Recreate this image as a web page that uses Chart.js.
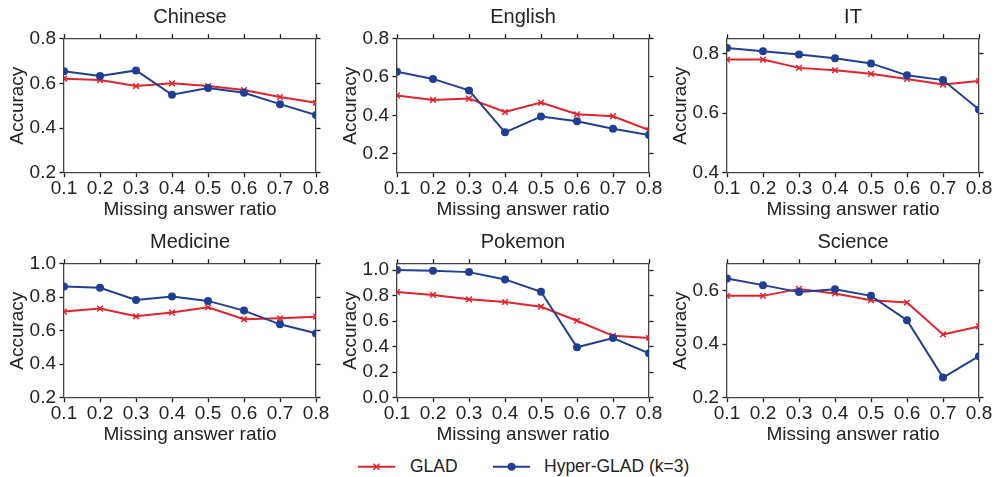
<!DOCTYPE html>
<html><head><meta charset="utf-8">
<script src="https://cdn.jsdelivr.net/npm/chart.js@4.4.1/dist/chart.umd.min.js"></script>
<style>
html,body{margin:0;padding:0;background:#fff;}
#wrap{position:relative;width:995px;height:477px;overflow:hidden;font-family:"Liberation Sans",Arial,Helvetica,sans-serif;color:#222;}
.panel{position:absolute;width:330px;height:225px;}
#legend{position:absolute;left:0;top:452px;width:995px;height:28px;}
.lt{position:absolute;top:0;height:29px;line-height:29px;font-size:17.5px;color:#222;white-space:nowrap;}
</style></head><body>
<div id="wrap">
  <div class="panel" style="left:0px;top:0px"><canvas id="c0" width="330" height="225"></canvas></div>
  <div class="panel" style="left:333px;top:0px"><canvas id="c1" width="330" height="225"></canvas></div>
  <div class="panel" style="left:663px;top:0px"><canvas id="c2" width="330" height="225"></canvas></div>
  <div class="panel" style="left:0px;top:224.5px"><canvas id="c3" width="330" height="225"></canvas></div>
  <div class="panel" style="left:333px;top:224.5px"><canvas id="c4" width="330" height="225"></canvas></div>
  <div class="panel" style="left:663px;top:224.5px"><canvas id="c5" width="330" height="225"></canvas></div>
  <div id="legend">
    <svg width="995" height="28" style="position:absolute;left:0;top:0">
      <line x1="358" y1="14.7" x2="395" y2="14.7" stroke="#e3232c" stroke-width="2"/>
      <line x1="373.5" y1="11.7" x2="379.5" y2="17.7" stroke="#e3232c" stroke-width="1.5"/>
      <line x1="373.5" y1="17.7" x2="379.5" y2="11.7" stroke="#e3232c" stroke-width="1.5"/>
      <line x1="493" y1="14.7" x2="530" y2="14.7" stroke="#1f3f96" stroke-width="2"/>
      <circle cx="511.5" cy="14.7" r="4" fill="#1f3f96"/>
    </svg>
    <div class="lt" style="left:410px">GLAD</div>
    <div class="lt" style="left:544px">Hyper-GLAD (k=3)</div>
  </div>
</div>
<script>
const categories = ['0.1','0.2','0.3','0.4','0.5','0.6','0.7','0.8'];
const panelTitles = ['Chinese','English','IT','Medicine','Pokemon','Science'];
const seriesNames = ['GLAD','Hyper-GLAD (k=3)'];

const gladChinese   = [0.621,0.615,0.588,0.600,0.588,0.570,0.539,0.513];
const hyperChinese  = [0.654,0.633,0.658,0.549,0.579,0.558,0.507,0.458];
const gladEnglish   = [0.503,0.480,0.487,0.417,0.466,0.405,0.395,0.323];
const hyperEnglish  = [0.628,0.590,0.530,0.311,0.393,0.369,0.330,0.297];
const gladIT        = [0.780,0.780,0.752,0.744,0.732,0.715,0.696,0.708];
const hyperIT       = [0.819,0.808,0.797,0.784,0.767,0.727,0.711,0.612];
const gladMedicine  = [0.714,0.732,0.686,0.708,0.740,0.668,0.674,0.684];
const hyperMedicine = [0.864,0.856,0.784,0.804,0.778,0.720,0.638,0.584];
const gladPokemon   = [0.828,0.805,0.771,0.750,0.713,0.603,0.485,0.468];
const hyperPokemon  = [1.000,0.995,0.984,0.927,0.830,0.395,0.468,0.348];
const gladScience   = [0.580,0.580,0.606,0.589,0.564,0.555,0.436,0.466];
const hyperScience  = [0.645,0.620,0.594,0.605,0.580,0.489,0.275,0.355];

const yMins = [0.2, 0.1, 0.4, 0.2, 0.0, 0.2];
const yMaxs = [0.8, 0.8, 0.85, 1.0, 1.05, 0.7];
const yTickValues = [
  [0.2,0.4,0.6,0.8],
  [0.2,0.4,0.6,0.8],
  [0.4,0.6,0.8],
  [0.2,0.4,0.6,0.8,1.0],
  [0.0,0.2,0.4,0.6,0.8,1.0],
  [0.2,0.4,0.6]
];
const gladSeries  = [gladChinese,gladEnglish,gladIT,gladMedicine,gladPokemon,gladScience];
const hyperSeries = [hyperChinese,hyperEnglish,hyperIT,hyperMedicine,hyperPokemon,hyperScience];

const RED = '#e3232c', BLUE = '#1f3f96';
const FONT = '"Liberation Sans", Arial, Helvetica, sans-serif';
const TXT = '#222';
const SPINE = '#444';
const TICKLEN = 4.5;

Chart.defaults.font.family = FONT;
Chart.defaults.color = TXT;

function makeChart(i) {
  const ctx = document.getElementById('c' + i);
  const tv = yTickValues[i];
  const setTicks = s => { s.ticks = tv.map(v => ({value: v})); };
  const gridOpts = {drawOnChartArea:false, drawTicks:true, tickLength:TICKLEN, tickColor:'#1a1a1a', tickWidth:1.3, color:'#1a1a1a'};
  const borderOpts = {display:true, color:SPINE, width:1.3};
  new Chart(ctx, {
    type: 'line',
    data: {
      labels: categories,
      datasets: [
        {label: seriesNames[0], data: gladSeries[i], borderColor: RED, backgroundColor: RED,
         borderWidth: 2, pointStyle: 'crossRot', pointRadius: 4, pointBorderWidth: 1.5,
         pointBorderColor: RED, tension: 0, clip: 0, order: 1, xAxisID: 'x', yAxisID: 'y'},
        {label: seriesNames[1], data: hyperSeries[i], borderColor: BLUE, backgroundColor: BLUE,
         borderWidth: 2, pointStyle: 'circle', pointRadius: 4, pointBorderWidth: 0,
         pointBackgroundColor: BLUE, tension: 0, clip: 0, order: 0, xAxisID: 'x', yAxisID: 'y'}
      ]
    },
    options: {
      responsive: false,
      animation: false,
      events: [],
      layout: {padding: 0},
      plugins: {
        legend: {display: false},
        tooltip: {enabled: false},
        title: {display: true, text: panelTitles[i], fullSize: false, color: TXT,
                font: {size: 20, weight: 'normal', family: FONT, lineHeight: 1.2},
                padding: {top: 5.5, bottom: 0}}
      },
      scales: {
        x: {type: 'category', position: 'bottom', offset: false,
            grid: gridOpts, border: borderOpts,
            ticks: {display: true, color: TXT, padding: 0, maxRotation: 0, autoSkip: false,
                    font: {size: 19, family: FONT, lineHeight: 1.2}},
            title: {display: true, text: 'Missing answer ratio', color: TXT,
                    font: {size: 19, family: FONT, lineHeight: 1.2}, padding: {top: 0, bottom: 4}},
            afterFit: s => { s.height = 52.3; }},
        x2: {type: 'category', position: 'top', offset: false, display: true,
            grid: gridOpts, border: borderOpts,
            ticks: {display: false},
            afterFit: s => { s.height = 9.2; }},
        y: {type: 'linear', position: 'left', min: yMins[i], max: yMaxs[i],
            grid: gridOpts, border: borderOpts,
            afterBuildTicks: setTicks,
            ticks: {color: TXT, padding: 3.5, font: {size: 19, family: FONT, lineHeight: 1.2},
                    callback: v => Number(v).toFixed(1)},
            title: {display: true, text: 'Accuracy', color: TXT,
                    font: {size: 19, family: FONT, lineHeight: 1.2}, padding: {top: 6, bottom: 0}},
            afterFit: s => { s.width = 64; }},
        y2: {type: 'linear', position: 'right', min: yMins[i], max: yMaxs[i], display: true,
            grid: gridOpts, border: borderOpts,
            afterBuildTicks: setTicks,
            ticks: {display: false},
            afterFit: s => { s.width = 14; }}
      }
    }
  });
}
for (let i = 0; i < 6; i++) makeChart(i);
</script>
</body></html>
